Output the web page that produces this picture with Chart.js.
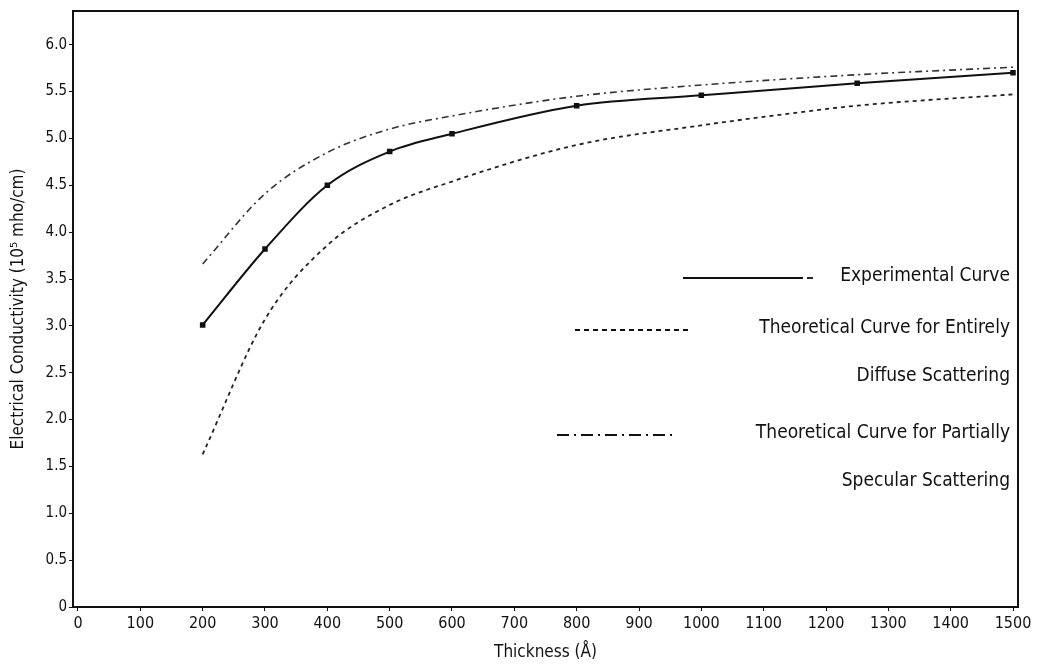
<!DOCTYPE html>
<html>
<head>
<meta charset="utf-8">
<script src="https://cdn.jsdelivr.net/npm/chart.js@4.4.1/dist/chart.umd.min.js"></script>
<style>
  html, body { margin: 0; padding: 0; background: #fff; }
  #wrap { width: 1040px; height: 666px; }
</style>
</head>
<body>
<div id="wrap"><canvas id="chart" width="1040" height="666"></canvas></div>
<script>
// values (thickness in Å, conductivity in 10^5 mho/cm)
const expThickness = [200, 300, 400, 500, 600, 800, 1000, 1250, 1500];
const expValues    = [3.01, 3.82, 4.50, 4.86, 5.05, 5.35, 5.46, 5.59, 5.70];

const diffuseThickness = [200, 300, 400, 500, 600, 800, 1000, 1100, 1250, 1500];
const diffuseValues    = [1.63, 3.07, 3.86, 4.29, 4.54, 4.93, 5.14, 5.23, 5.35, 5.47];

const specularThickness = [200, 300, 400, 500, 600, 800, 1000, 1250, 1500];
const specularValues    = [3.66, 4.41, 4.85, 5.10, 5.24, 5.45, 5.57, 5.68, 5.76];

const xTicks = [0, 100, 200, 300, 400, 500, 600, 700, 800, 900, 1000, 1100, 1200, 1300, 1400, 1500];
const yTicks = [0, 0.5, 1.0, 1.5, 2.0, 2.5, 3.0, 3.5, 4.0, 4.5, 5.0, 5.5, 6.0];

const legendItems = [
  { lines: ['Experimental Curve'], dash: [], x0: 683, x1: 803, y: 278 },
  { lines: ['Theoretical Curve for Entirely', 'Diffuse Scattering'], dash: [5, 4], x0: 575, x1: 688, y: 330 },
  { lines: ['Theoretical Curve for Partially', 'Specular Scattering'], dash: [12, 5, 2, 5], x0: 557, x1: 676, y: 435 }
];

const FONT = '"DejaVu Sans Condensed", "Liberation Sans Narrow", sans-serif';

function pairs(xs, ys){ return xs.map((x, i) => ({ x: x, y: ys[i] })); }

// box around the plot + hand-written style legend
const framePlugin = {
  id: 'frame',
  afterDraw(chart){
    const { ctx, chartArea: a } = chart;
    ctx.save();
    ctx.strokeStyle = '#111';
    ctx.lineWidth = 2;
    ctx.strokeRect(a.left, a.top, a.right - a.left, a.bottom - a.top);

    ctx.fillStyle = '#111';
    ctx.font = '19px ' + FONT;
    ctx.textAlign = 'right';
    ctx.textBaseline = 'middle';
    legendItems.forEach(item => {
      ctx.lineWidth = 1.8;
      ctx.setLineDash(item.dash);
      ctx.beginPath();
      ctx.moveTo(item.x0, item.y);
      ctx.lineTo(item.x1, item.y);
      ctx.stroke();
      if(item.dash.length === 0){
        ctx.beginPath();
        ctx.moveTo(item.x1 + 4, item.y);
        ctx.lineTo(item.x1 + 10, item.y);
        ctx.stroke();
      }
      ctx.setLineDash([]);
      item.lines.forEach((t, i) => ctx.fillText(t, 1010, item.y - 2 + i * 48));
    });
    ctx.restore();
  }
};

new Chart(document.getElementById('chart'), {
  type: 'line',
  data: {
    datasets: [
      {
        label: 'Experimental Curve',
        data: pairs(expThickness, expValues),
        borderColor: '#111',
        backgroundColor: '#111',
        borderWidth: 2,
        pointRadius: 2.5,
        pointStyle: 'rect',
        cubicInterpolationMode: 'monotone'
      },
      {
        label: 'Theoretical Curve for Entirely Diffuse Scattering',
        data: pairs(diffuseThickness, diffuseValues),
        borderColor: '#222',
        borderWidth: 1.8,
        borderDash: [4, 4],
        pointRadius: 0,
        cubicInterpolationMode: 'monotone'
      },
      {
        label: 'Theoretical Curve for Partially Specular Scattering',
        data: pairs(specularThickness, specularValues),
        borderColor: '#333',
        borderWidth: 1.6,
        borderDash: [7, 4, 2, 4],
        pointRadius: 0,
        cubicInterpolationMode: 'monotone'
      }
    ]
  },
  options: {
    responsive: false,
    animation: false,
    layout: { padding: { top: 8, right: 22, left: 2, bottom: 0 } },
    plugins: { legend: { display: false }, tooltip: { enabled: false } },
    scales: {
      x: {
        type: 'linear',
        min: -8,
        max: 1508,
        afterBuildTicks: s => { s.ticks = xTicks.map(v => ({ value: v })); },
        afterFit: s => { s.height = 59; },
        grid: { drawOnChartArea: false, drawTicks: true, tickLength: 4, color: '#111' },
        border: { display: true, color: '#111', width: 2 },
        ticks: {
          color: '#111', font: { family: FONT, size: 16 }, padding: 3, maxRotation: 0, autoSkip: false,
          callback: v => String(v)
        },
        title: { display: true, text: 'Thickness (Å)', color: '#111', font: { family: FONT, size: 17 }, padding: { top: 0, bottom: 3 } }
      },
      y: {
        min: 0,
        max: 6.36,
        afterBuildTicks: s => { s.ticks = yTicks.map(v => ({ value: v })); },
        afterFit: s => { s.width = 71; },
        grid: { drawOnChartArea: false, drawTicks: true, tickLength: 4, color: '#111' },
        border: { display: true, color: '#111', width: 2 },
        ticks: {
          color: '#111', font: { family: FONT, size: 15 }, padding: 2,
          callback: v => v === 0 ? '0' : v.toFixed(1)
        },
        title: { display: true, text: 'Electrical Conductivity (10⁵ mho/cm)', color: '#111', font: { family: FONT, size: 17 }, padding: { top: 6, bottom: 0 } }
      }
    }
  },
  plugins: [framePlugin]
});
</script>
</body>
</html>
